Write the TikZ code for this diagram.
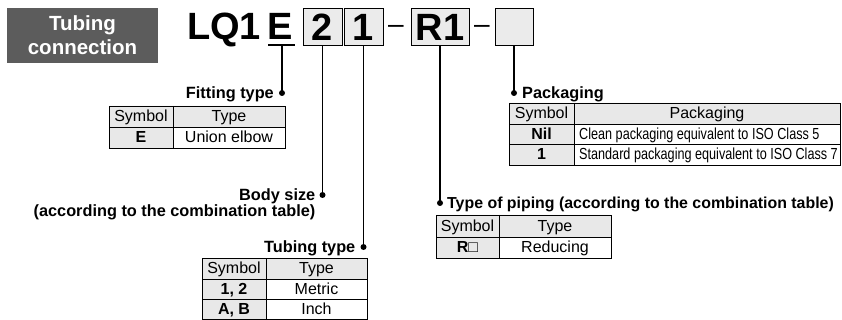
\documentclass[tikz,border=0pt]{standalone}
\usepackage{fontspec}
\setmainfont{Liberation Sans}
\newfontfamily\narrowfont[FakeStretch=0.79]{Liberation Sans}
\definecolor{boxgray}{HTML}{EBEBEB}
\definecolor{tabgray}{HTML}{E8E8E8}
\definecolor{bannergray}{HTML}{5C5C5C}
\begin{document}
\begin{tikzpicture}[x=1pt,y=-1pt,
  big/.style={inner sep=0pt,font=\fontsize{38}{38}\bfseries\selectfont},
  code/.style={big,draw,fill=boxgray,line width=0.9pt,minimum height=37pt},
  lead/.style={line width=1.2pt},
  lbl/.style={inner sep=0pt,text height=11.5pt,text depth=0pt,font=\fontsize{16.3}{19}\bfseries\selectfont},
  cell/.style={inner sep=0pt,text height=11.5pt,text depth=1.5pt,font=\fontsize{16}{17}\selectfont},
  sym/.style={cell,font=\fontsize{16}{17}\bfseries\selectfont},
  tab/.style={line width=0.8pt},
  hd/.style={fill=tabgray}]
\useasboundingbox (0,0) rectangle (842,320);

% banner
\node[fill=bannergray,text=white,minimum width=151pt,minimum height=55pt,inner sep=0pt,
  align=center,font=\fontsize{20.5}{24}\bfseries\selectfont] (banner) at (82.5,35.5) {Tubing\\connection};

% model code
\node[big,anchor=base west] (lq) at (187,40) {LQ1};
\node[big,anchor=base west] (fit) at (267,40) {E};
\node[code,minimum width=39pt] (size) at (322.5,27) {2};
\node[code,minimum width=39pt] (tube) at (363.5,27) {1};
\node[code,minimum width=58pt] (pipe) at (440,27) {R1};
\node[code,minimum width=38pt] (pack) at (514,27) {};
\node[inner sep=0pt,anchor=base,font=\fontsize{28}{28}\selectfont] (dash1) at (396,33.5) {–};
\node[inner sep=0pt,anchor=base,font=\fontsize{28}{28}\selectfont] (dash2) at (482,33.5) {–};
\draw[lead] (268,45) -- (295,45);
\coordinate (fitbar) at (282,45);

% leaders
\coordinate (fitdot) at (282,93);
\coordinate (sizedot) at (size.south |- 0,195);
\coordinate (tubedot) at (tube.south |- 0,247);
\coordinate (pipedot) at (pipe.south |- 0,203);
\coordinate (packdot) at (pack.south |- 0,93);
\draw[lead] (fitbar) -- (fitdot);
\draw[lead] (size.south) -- (sizedot);
\draw[lead] (tube.south) -- (tubedot);
\draw[lead] (pipe.south) -- (pipedot);
\draw[lead] (pack.south) -- (packdot);
\foreach \d in {fitdot,sizedot,tubedot,pipedot,packdot}
  \fill (\d) circle (3pt);

% labels
\node[lbl,anchor=east] (fitlbl) at ([xshift=-8pt]fitdot) {Fitting type};
\node[lbl,anchor=east] (sizelbl) at ([xshift=-7pt]sizedot) {Body size};
\node[lbl,anchor=east] (sizenote) at ([yshift=-16pt]sizelbl.east) {(according to the combination table)};
\node[lbl,anchor=east] (tubelbl) at ([xshift=-8pt]tubedot) {Tubing type};
\node[lbl,anchor=west,font=\fontsize{15.9}{19}\bfseries\selectfont] (pipelbl) at ([xshift=7pt]pipedot) {Type of piping (according to the combination table)};
\node[lbl,anchor=west] (packlbl) at ([xshift=8pt]packdot) {Packaging};

% fitting type table
\fill[hd] (109,106) rectangle (285,127) (109,127) rectangle (173,148);
\draw[tab] (109,106) rectangle (285,148) (109,127) -- (285,127) (173,106) -- (173,148);
\node[cell] (fith1) at (141,116.5) {Symbol};
\node[cell] (fith2) at (229,116.5) {Type};
\node[sym] (fitE) at (141,137.5) {E};
\node[cell] (fitEt) at (229,137.5) {Union elbow};

% tubing type table
\fill[hd] (202,258) rectangle (367,279) (202,279) rectangle (266,319.5);
\draw[tab] (202,258) rectangle (367,319.5) (202,279) -- (367,279) (202,299.5) -- (367,299.5) (266,258) -- (266,319.5);
\node[cell] (tubeh1) at (234,268.5) {Symbol};
\node[cell] (tubeh2) at (316.5,268.5) {Type};
\node[sym] (tubeM) at (234,289.25) {1, 2};
\node[cell] (tubeMt) at (316.5,289.25) {Metric};
\node[sym] (tubeI) at (234,309.5) {A, B};
\node[cell] (tubeIt) at (316.5,309.5) {Inch};

% piping table
\fill[hd] (436,215) rectangle (611,237) (436,237) rectangle (499,258);
\draw[tab] (436,215) rectangle (611,258) (436,237) -- (611,237) (499,215) -- (499,258);
\node[cell] (pipeh1) at (467.5,226) {Symbol};
\node[cell] (pipeh2) at (555,226) {Type};
\node[sym] (pipeR) at (467.5,247.5) {R□};
\node[cell] (pipeRt) at (555,247.5) {Reducing};

% packaging table
\fill[hd] (509,103) rectangle (840,124) (509,124) rectangle (574,165);
\draw[tab] (509,103) rectangle (840,165) (509,124) -- (840,124) (509,144.5) -- (840,144.5) (574,103) -- (574,165);
\node[cell] (packh1) at (541.5,113.5) {Symbol};
\node[cell] (packh2) at (707,113.5) {Packaging};
\node[sym] (packN) at (541.5,134.25) {Nil};
\node[cell,anchor=west,font=\fontsize{16}{17}\narrowfont] (packNt) at (579,134.25) {Clean packaging equivalent to ISO Class 5};
\node[sym] (packS) at (541.5,154.75) {1};
\node[cell,anchor=west,font=\fontsize{16}{17}\narrowfont] (packSt) at (579,154.75) {Standard packaging equivalent to ISO Class 7};
\end{tikzpicture}
\end{document}
